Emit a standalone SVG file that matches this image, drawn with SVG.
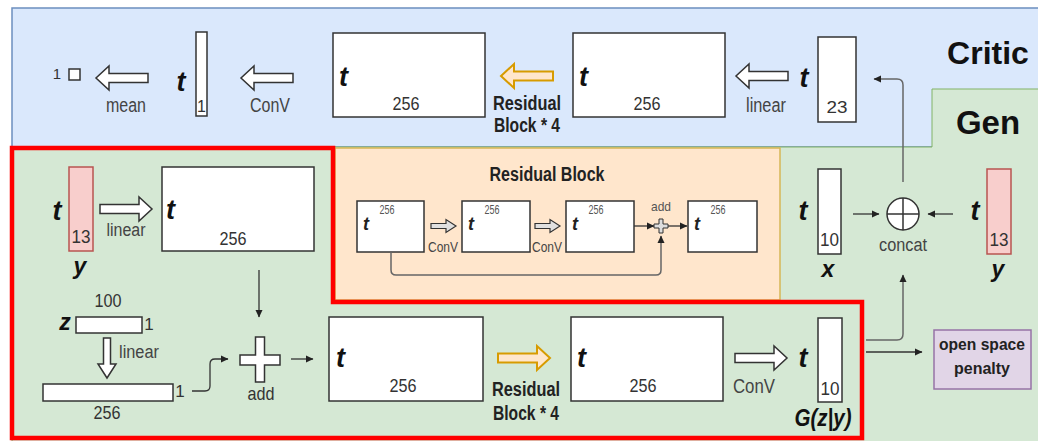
<svg xmlns="http://www.w3.org/2000/svg" width="1038" height="441" viewBox="0 0 1038 441">
<style>
text{font-family:"Liberation Sans",Arial,sans-serif;fill:#333}
.t{font-weight:bold;font-style:italic;font-size:27px;fill:#111}
.ts{font-weight:bold;font-style:italic;font-size:18px;fill:#222}
.v{font-weight:bold;font-style:italic;font-size:23px;fill:#111;text-anchor:middle}
.lb{font-size:20px;text-anchor:middle;fill:#444}
.n{font-size:19px;text-anchor:middle}
.sn{font-size:12px;text-anchor:middle;fill:#555}
.b{font-weight:bold;font-size:20px;text-anchor:middle;fill:#222}
.big{font-weight:bold;font-size:32px;text-anchor:middle;fill:#111}
.box{fill:#fff;stroke:#333;stroke-width:1.5}
.pink{fill:#f8cecc;stroke:#b85450;stroke-width:1.5}
.harr{fill:#fff;stroke:#333;stroke-width:1.5}
.garr{fill:#e0e0e0;stroke:#333;stroke-width:1.2}
.oarr{fill:#ffe6cc;stroke:#d79b00;stroke-width:2}
.con{fill:none;stroke:#333;stroke-width:1.3}
.gcon{fill:none;stroke:#666;stroke-width:1.5}
</style>
<defs>
<marker id="ah" markerWidth="8" markerHeight="8" refX="7" refY="4" orient="auto" markerUnits="userSpaceOnUse"><path d="M0,0.5 L7.5,4 L0,7.5 Z" fill="#222"/></marker>
<path id="arrR" d="M0,-4.5 H39 V-12 L52,0 L39,12 V4.5 H0 Z"/>
<path id="arrS" d="M0,-2.5 H15 V-6.5 L25,0 L15,6.5 V2.5 H0 Z"/>
</defs>

<g id="backgrounds">
<rect x="12" y="8" width="1040" height="139" fill="#dae8fc" stroke="#6c8ebf" stroke-width="1.5"/>
<path d="M932,89 H1042 V445 H12 V147 H932 Z" fill="#d5e8d4" stroke="#82b366" stroke-width="1"/>
<rect id="residual-block" x="335" y="148" width="445" height="152" fill="#ffe6cc" stroke="#d6b656" stroke-width="1.5"/>
<path d="M12,148 H333 V302 H862 V438 H12 Z" fill="none" stroke="#ff0000" stroke-width="4.5"/>
</g>

<g id="critic">
<text x="988" y="64" class="big">Critic</text>
<g id="c-out"><text x="57" y="79" class="n" style="font-size:15px">1</text><rect x="69" y="69" width="11" height="11" class="box"/></g>
<use href="#arrR" class="harr" transform="translate(148,78) rotate(180)"/>
<text x="126" y="112" class="lb" textLength="40" lengthAdjust="spacingAndGlyphs">mean</text>
<g id="c-bar1"><text x="181" y="91" class="t" text-anchor="middle">t</text><rect x="196" y="32" width="11" height="84" class="box"/><text x="201.5" y="112" class="n" style="font-size:16px">1</text></g>
<use href="#arrR" class="harr" transform="translate(293,78) rotate(180)"/>
<text x="270" y="112" class="lb" textLength="40" lengthAdjust="spacingAndGlyphs">ConV</text>
<g id="c-box1"><rect x="333" y="33" width="152" height="84" class="box"/><text x="339" y="86" class="t">t</text><text x="406" y="110" class="n" textLength="27" lengthAdjust="spacingAndGlyphs">256</text></g>
<use href="#arrR" class="oarr" transform="translate(553,76) rotate(180)"/>
<text x="527" y="110" class="b" textLength="68" lengthAdjust="spacingAndGlyphs">Residual</text>
<text x="527" y="132" class="b" textLength="66" lengthAdjust="spacingAndGlyphs">Block * 4</text>
<g id="c-box2"><rect x="573" y="33" width="152" height="84" class="box"/><text x="579" y="86" class="t">t</text><text x="647" y="110" class="n" textLength="27" lengthAdjust="spacingAndGlyphs">256</text></g>
<use href="#arrR" class="harr" transform="translate(788,76) rotate(180)"/>
<text x="766" y="112" class="lb" textLength="40" lengthAdjust="spacingAndGlyphs">linear</text>
<g id="c-in"><text x="804" y="87" class="t" text-anchor="middle">t</text><rect x="818" y="37" width="38" height="85" class="box"/><text x="837" y="113" class="n" style="font-size:17px" textLength="21" lengthAdjust="spacingAndGlyphs">23</text></g>
</g>

<g id="residual">
<text x="547" y="181" class="b" textLength="115" lengthAdjust="spacingAndGlyphs">Residual Block</text>
<g id="r-box1"><rect x="357" y="201" width="67" height="51" class="box"/><text x="363" y="230" class="ts">t</text><text x="387" y="214" class="sn" textLength="15" lengthAdjust="spacingAndGlyphs">256</text></g>
<use href="#arrS" class="garr" transform="translate(431,226)"/>
<text x="443" y="252" class="lb" style="font-size:15px" textLength="30" lengthAdjust="spacingAndGlyphs">ConV</text>
<g id="r-box2"><rect x="462" y="201" width="68" height="51" class="box"/><text x="468" y="230" class="ts">t</text><text x="492" y="214" class="sn" textLength="15" lengthAdjust="spacingAndGlyphs">256</text></g>
<use href="#arrS" class="garr" transform="translate(535,226)"/>
<text x="547" y="252" class="lb" style="font-size:15px" textLength="30" lengthAdjust="spacingAndGlyphs">ConV</text>
<g id="r-box3"><rect x="566" y="201" width="68" height="51" class="box"/><text x="572" y="230" class="ts">t</text><text x="596" y="214" class="sn" textLength="15" lengthAdjust="spacingAndGlyphs">256</text></g>
<g id="r-add"><path d="M659,219 H663 V224 H668 V228 H663 V233 H659 V228 H654 V224 H659 Z" fill="#ddd" stroke="#333" stroke-width="1"/><text x="661" y="211" class="sn" style="font-size:13px" textLength="20" lengthAdjust="spacingAndGlyphs">add</text></g>
<g id="r-box4"><rect x="688" y="201" width="69" height="51" class="box"/><text x="694" y="230" class="ts">t</text><text x="718" y="214" class="sn" textLength="15" lengthAdjust="spacingAndGlyphs">256</text></g>
</g>

<g id="gen">
<text x="988" y="134" class="big" style="font-size:33px">Gen</text>
<g id="g-y"><text x="57" y="220" class="t" text-anchor="middle">t</text><rect x="69" y="167" width="24" height="84" class="pink"/><text x="81" y="243" class="n" textLength="19" lengthAdjust="spacingAndGlyphs">13</text><text x="80" y="274" class="v">y</text></g>
<use href="#arrR" class="harr" transform="translate(100,209)"/>
<text x="126" y="236" class="lb" style="font-size:18px" textLength="39" lengthAdjust="spacingAndGlyphs">linear</text>
<g id="g-ybox"><rect x="162" y="167" width="152" height="84" class="box"/><text x="166" y="219" class="t">t</text><text x="233" y="245" class="n" textLength="27" lengthAdjust="spacingAndGlyphs">256</text></g>
<g id="g-z"><text x="108" y="307" class="n" textLength="27" lengthAdjust="spacingAndGlyphs">100</text><text x="65" y="330" class="v">z</text><rect x="76" y="317" width="66" height="16" class="box"/><text x="149" y="330" class="n" style="font-size:17px">1</text></g>
<path d="M103.5,338 V364 H98 L107,378 L116,364 H110.5 V338 Z" class="harr"/>
<text x="139" y="358" class="lb" style="font-size:18px" textLength="40" lengthAdjust="spacingAndGlyphs">linear</text>
<g id="g-zlin"><rect x="43" y="384" width="130" height="17" class="box"/><text x="180" y="397" class="n" style="font-size:17px">1</text><text x="107" y="419" class="n" textLength="27" lengthAdjust="spacingAndGlyphs">256</text></g>
<g id="g-add"><path d="M255.5,337 H264.5 V355 H280 V365 H264.5 V382 H255.5 V365 H240 V355 H255.5 Z" fill="#fff" stroke="#333" stroke-width="1.5"/><text x="261" y="400" class="n" textLength="27" lengthAdjust="spacingAndGlyphs">add</text></g>
<g id="g-box1"><rect x="329" y="317" width="154" height="84" class="box"/><text x="336" y="367" class="t">t</text><text x="403" y="392" class="n" textLength="27" lengthAdjust="spacingAndGlyphs">256</text></g>
<use href="#arrR" class="oarr" transform="translate(498,358)"/>
<text x="526" y="396" class="b" textLength="68" lengthAdjust="spacingAndGlyphs">Residual</text>
<text x="526" y="420" class="b" textLength="66" lengthAdjust="spacingAndGlyphs">Block * 4</text>
<g id="g-box2"><rect x="571" y="317" width="152" height="84" class="box"/><text x="577" y="367" class="t">t</text><text x="643" y="392" class="n" textLength="27" lengthAdjust="spacingAndGlyphs">256</text></g>
<use href="#arrR" class="harr" transform="translate(735,358)"/>
<text x="754" y="393" class="lb" textLength="42" lengthAdjust="spacingAndGlyphs">ConV</text>
<g id="g-out"><text x="803" y="367" class="t" text-anchor="middle">t</text><rect x="818" y="318" width="24" height="84" class="box"/><text x="830" y="395" class="n" textLength="19" lengthAdjust="spacingAndGlyphs">10</text><text x="823" y="426" class="v" textLength="57" lengthAdjust="spacingAndGlyphs">G(z|y)</text></g>
<g id="g-x"><text x="803" y="220" class="t" text-anchor="middle">t</text><rect x="818" y="169" width="23" height="85" class="box"/><text x="829.5" y="246" class="n" textLength="19" lengthAdjust="spacingAndGlyphs">10</text><text x="828" y="277" class="v">x</text></g>
<g id="g-concat"><circle cx="903" cy="214" r="16" fill="#fff" stroke="#333" stroke-width="1.5"/><path d="M887,214 H919 M903,198 V230" stroke="#333" stroke-width="1.5"/><text x="903" y="251" class="lb" style="font-size:18px" textLength="48" lengthAdjust="spacingAndGlyphs">concat</text></g>
<g id="g-y2"><text x="975" y="220" class="t" text-anchor="middle">t</text><rect x="987" y="169" width="24" height="85" class="pink"/><text x="999" y="246" class="n" textLength="19" lengthAdjust="spacingAndGlyphs">13</text><text x="998" y="277" class="v">y</text></g>
<g id="g-penalty"><rect x="934" y="330" width="97" height="59" fill="#e1d5e7" stroke="#9673a6" stroke-width="1.5"/><text x="982" y="350" class="b" style="font-size:17px" textLength="86" lengthAdjust="spacingAndGlyphs">open space</text><text x="982" y="374" class="b" style="font-size:17px" textLength="56" lengthAdjust="spacingAndGlyphs">penalty</text></g>
</g>

<g id="connectors">
<path class="con" d="M259,270 V317" marker-end="url(#ah)"/>
<path class="con" d="M192,391 H205 Q210,391 210,386 V364 Q210,359 215,359 H228" marker-end="url(#ah)"/>
<path class="con" d="M291,359 H313" marker-end="url(#ah)"/>
<path class="gcon" d="M391,252 V270 Q391,275 396,275 H656 Q661,275 661,270 V236" marker-end="url(#ah)"/>
<path class="con" d="M634,226 H654" marker-end="url(#ah)"/>
<path class="con" d="M668,226 H687" marker-end="url(#ah)"/>
<path class="con" d="M853,214 H879" marker-end="url(#ah)"/>
<path class="con" d="M953,214 H928" marker-end="url(#ah)"/>
<path class="gcon" d="M903,182 V85 Q903,79 897,79 H874" marker-end="url(#ah)"/>
<path class="gcon" d="M866,340 H897 Q903,340 903,334 V275" marker-end="url(#ah)"/>
<path class="con" d="M866,352 H922" marker-end="url(#ah)"/>
</g>
</svg>
